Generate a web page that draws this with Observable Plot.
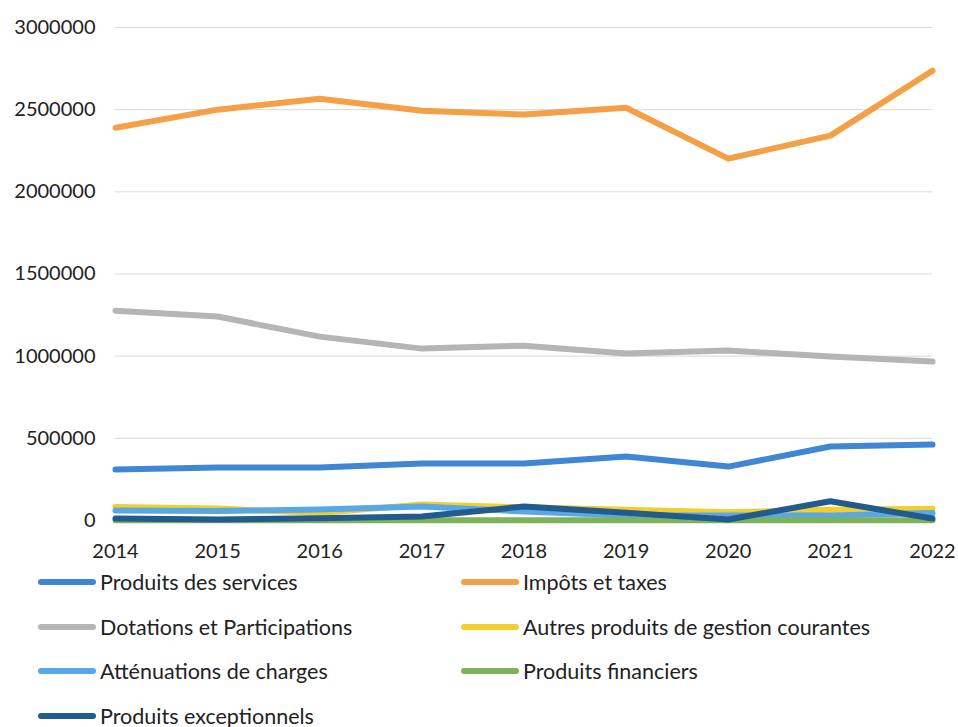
<!DOCTYPE html>
<html>
<head>
<meta charset="utf-8">
<script src="https://cdn.jsdelivr.net/npm/d3@7"></script>
<script src="https://cdn.jsdelivr.net/npm/@observablehq/plot@0.6"></script>
<style>
  html, body { margin: 0; padding: 0; background: #fff; }
  body { width: 958px; height: 727px; overflow: hidden; font-family: Lato, "Open Sans", sans-serif; }
  #chart svg { display: block; }
  #legend { position: relative; height: 157px; }
  .item { position: absolute; display: flex; align-items: center; font-size: 21.5px; color: #222; white-space: nowrap; }
  .sw { width: 58px; height: 6px; border-radius: 3px; margin-right: 4px; }
</style>
</head>
<body>
<div id="chart"></div>
<div id="legend"></div>
<script>
const years = [2014, 2015, 2016, 2017, 2018, 2019, 2020, 2021, 2022];
const seriesNames = [
  "Produits des services",
  "Impôts et taxes",
  "Dotations et Participations",
  "Autres produits de gestion courantes",
  "Atténuations de charges",
  "Produits financiers",
  "Produits exceptionnels"
];
const produitsServices = [310000, 322000, 322000, 347000, 347000, 389000, 328000, 450000, 462000];
const impotsTaxes      = [2390000, 2500000, 2567000, 2494000, 2470000, 2512000, 2202000, 2342000, 2737000];
const dotations        = [1277000, 1241000, 1119000, 1046000, 1064000, 1016000, 1034000, 998000, 967000];
const autresProduits   = [82000, 73000, 45000, 97000, 80000, 65000, 50000, 65000, 72000];
const attenuations     = [61000, 58000, 67000, 85000, 55000, 30000, 30000, 30000, 45000];
const produitsFinanc   = [2000, 2000, 2000, 2000, 2000, 2000, 2000, 2000, 2000];
const produitsExcep    = [12000, 6000, 14000, 24000, 85000, 47000, 6000, 117000, 12000];
const colors = ["#3f87d4", "#f3a046", "#b5b5b7", "#f2cf2e", "#58a8e6", "#7eb25a", "#225b8e"];
const yTicks = [0, 500000, 1000000, 1500000, 2000000, 2500000, 3000000];

const allValues = [produitsServices, impotsTaxes, dotations, autresProduits, attenuations, produitsFinanc, produitsExcep];
const data = [];
seriesNames.forEach((name, i) => {
  years.forEach((yr, j) => data.push({series: name, year: yr, value: allValues[i][j]}));
});

const chart = Plot.plot({
  width: 958,
  height: 570,
  marginLeft: 115,
  marginRight: 26,
  marginTop: 27,
  marginBottom: 50,
  style: { fontFamily: "Lato, 'Open Sans', sans-serif", color: "#222", background: "#fff", overflow: "visible" },
  x: { domain: [2014, 2022], label: null },
  y: { domain: [0, 3000000], label: null },
  color: { domain: seriesNames, range: colors },
  marks: [
    Plot.gridY(yTicks, { stroke: "#d9d9d9", strokeOpacity: 1, strokeWidth: 1 }),
    Plot.axisY(yTicks, { tickSize: 0, tickPadding: 20, fontSize: 20, tickFormat: d => String(d), fill: "#222", label: null }),
    Plot.axisX(years, { tickSize: 0, tickPadding: 23, fontSize: 20, tickFormat: d => String(d), fill: "#222", label: null }),
    Plot.line(data, { x: "year", y: "value", z: "series", stroke: "series", strokeWidth: 6, strokeLinejoin: "round" })
  ]
});
document.getElementById("chart").appendChild(chart);

const legend = document.getElementById("legend");
const positions = [[38, 0], [461, 0], [38, 1], [461, 1], [38, 2], [461, 2], [38, 3]];
seriesNames.forEach((name, i) => {
  const el = document.createElement("div");
  el.className = "item";
  el.style.left = positions[i][0] + "px";
  el.style.top = (positions[i][1] * 44.6 + 12 - 13) + "px";
  el.style.height = "26px";
  const sw = document.createElement("span");
  sw.className = "sw";
  sw.style.background = colors[i];
  const tx = document.createElement("span");
  tx.textContent = name;
  el.appendChild(sw);
  el.appendChild(tx);
  legend.appendChild(el);
});
</script>
</body>
</html>
